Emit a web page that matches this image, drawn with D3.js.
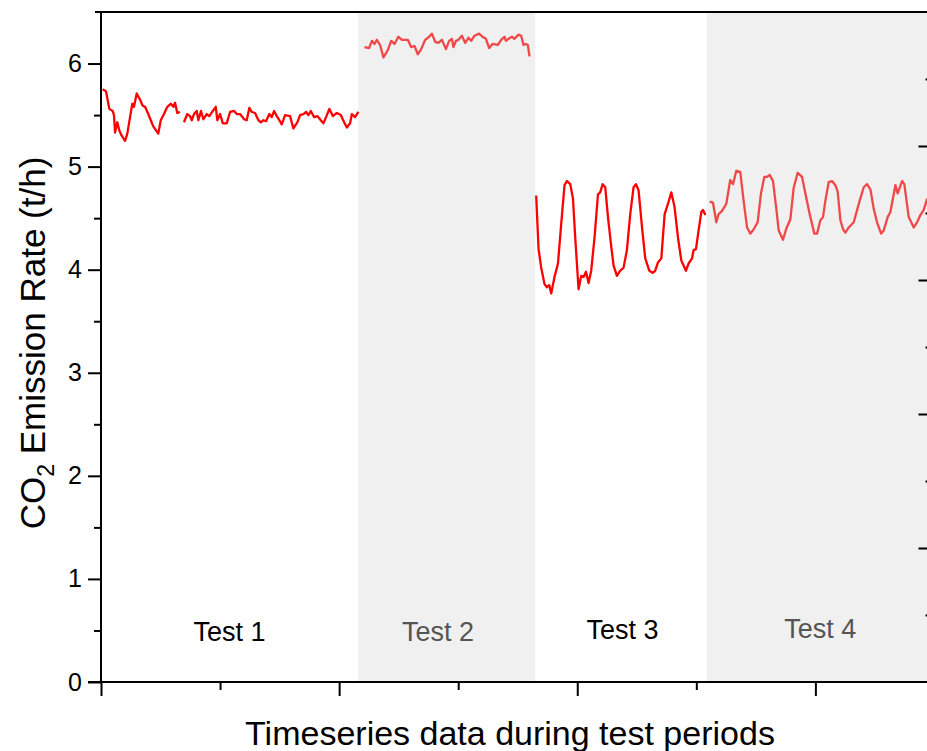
<!DOCTYPE html>
<html>
<head>
<meta charset="utf-8">
<script src="https://cdn.jsdelivr.net/npm/d3@7"></script>
<style>
  html, body { margin: 0; padding: 0; background: #fff; }
  svg { display: block; }
  text { font-family: "Liberation Sans", Arial, sans-serif; }
</style>
</head>
<body>
<svg id="chart" width="927" height="751"></svg>
<script>
// ---- data (time index, CO2 emission rate t/h) ----
const test1aX = [1.4,4.2,6.2,7.0,9.8,10.9,11.8,13.7,15.4,17.4,20.2,22.1,24.4,26.3,27.7,30.0,32.8,35.0,37.0,39.7,41.8,43.9,48.1,50.2,52.9,55.7,58.6,60.8,62.2,64.1,66.4];
const test1aY = [5.75,5.73,5.61,5.56,5.54,5.50,5.33,5.43,5.35,5.30,5.25,5.32,5.48,5.61,5.58,5.71,5.65,5.59,5.58,5.51,5.45,5.39,5.32,5.45,5.51,5.58,5.61,5.58,5.62,5.52,5.53];

const test1bX = [69.7,72.5,74.8,76.2,78.1,80.4,81.8,84.0,86.0,88.8,91.0,93.9,96.4,97.7,100.0,102.3,105.6,108.4,111.8,114.0,116.8,120.2,122.4,124.6,126.6,129.4,132.2,134.2,136.4,138.6,141.4,143.4,145.4,147.6,149.8,151.8,154.6,158.8,161.6,164.9,167.2,170.0,172.3,174.2,176.2,179.0,181.8,184.6,186.8,189.7,191.8,194.7,198.1,201.4,204.2,206.5,209.2,210.7,213.4,216.2];
const test1bY = [5.43,5.51,5.49,5.45,5.51,5.54,5.45,5.54,5.46,5.51,5.49,5.54,5.58,5.45,5.51,5.42,5.42,5.53,5.54,5.51,5.51,5.46,5.45,5.57,5.53,5.52,5.45,5.43,5.45,5.44,5.51,5.48,5.54,5.49,5.45,5.41,5.50,5.49,5.37,5.43,5.50,5.51,5.53,5.50,5.54,5.48,5.49,5.45,5.42,5.50,5.56,5.49,5.52,5.50,5.43,5.38,5.42,5.51,5.48,5.53];

const test2X = [221.3,225.2,227.5,229.7,231.7,234.4,237.2,240.9,243.7,246.5,249.8,252.7,257.7,260.5,263.3,266.1,268.9,272.3,275.6,277.9,280.7,283.4,286.3,289.7,292.4,294.7,296.0,298.1,300.2,303.1,305.9,308.6,310.9,313.7,317.6,320.4,323.3,326.0,328.8,333.3,336.1,338.9,340.1,342.3,345.1,347.3,350.7,352.9,354.9,356.9,358.5,359.9];
const test2Y = [6.16,6.15,6.22,6.19,6.23,6.18,6.06,6.13,6.22,6.19,6.26,6.23,6.23,6.16,6.17,6.09,6.14,6.23,6.26,6.29,6.21,6.20,6.23,6.14,6.22,6.24,6.16,6.22,6.23,6.27,6.20,6.25,6.22,6.27,6.29,6.26,6.24,6.15,6.19,6.18,6.23,6.26,6.22,6.24,6.26,6.24,6.28,6.27,6.18,6.19,6.18,6.07];

const test3X = [365.5,367.5,369.7,372.5,374.5,376.5,378.1,380.9,383.8,386.5,389.3,391.3,394.1,396.4,398.3,399.7,401.1,403.3,405.3,407.3,409.5,411.7,414.5,417.4,419.3,421.3,423.5,425.8,428.6,430.5,433.3,436.1,438.9,441.7,444.5,447.3,449.3,451.5,454.4,457.1,460.5,463.3,465.5,467.8,470.6,473.4,476.2,479.0,481.7,484.6,487.4,491.3,493.5,496.4,497.7,499.7,501.9,504.2,505.6,507.6];
const test3Y = [4.72,4.20,4.02,3.86,3.83,3.85,3.77,3.93,4.06,4.44,4.82,4.86,4.83,4.69,4.31,4.06,3.81,3.94,3.93,3.98,3.87,3.99,4.31,4.73,4.75,4.83,4.80,4.51,4.22,4.04,3.94,3.99,4.02,4.19,4.54,4.80,4.83,4.77,4.41,4.11,3.99,3.97,3.99,4.07,4.11,4.54,4.64,4.75,4.61,4.31,4.09,3.99,4.06,4.11,4.19,4.20,4.38,4.56,4.58,4.53];

const test4X = [511.2,514.0,516.8,518.7,521.6,525.2,528.5,530.8,533.6,536.9,539.7,542.6,545.4,548.1,551.5,554.3,557.1,559.4,561.6,564.4,567.2,569.2,572.8,575.6,579.0,581.7,585.1,588.8,591.6,595.2,599.1,601.4,604.2,606.4,608.4,611.2,614.0,616.8,618.7,621.0,623.3,625.2,628.0,632.2,637.2,640.6,643.4,646.2,649.0,651.8,655.2,657.4,660.7,663.0,667.2,669.1,672.8,674.7,678.4,682.6,685.4,688.2,691.0,693.9];
const test4Y = [4.66,4.65,4.46,4.54,4.57,4.64,4.87,4.83,4.96,4.95,4.67,4.41,4.35,4.39,4.46,4.74,4.90,4.90,4.92,4.86,4.59,4.38,4.29,4.40,4.49,4.79,4.94,4.90,4.74,4.54,4.35,4.35,4.48,4.51,4.67,4.85,4.86,4.82,4.76,4.48,4.39,4.36,4.41,4.46,4.67,4.80,4.83,4.78,4.59,4.46,4.35,4.38,4.51,4.56,4.82,4.74,4.86,4.83,4.51,4.41,4.46,4.53,4.58,4.69];

// shaded test periods [start, end] in time index
const bandStarts = [216, 509];
const bandEnds = [364.7, 700];

const testLabels = ["Test 1", "Test 2", "Test 3", "Test 4"];
const testLabelX = [108, 283, 438, 604];
const testLabelY = [0.40, 0.40, 0.42, 0.43];

const yTicks = [0, 1, 2, 3, 4, 5, 6];
const xTitle = "Timeseries data during test periods";

// ---- layout ----
const svg = d3.select("#chart");
const mLeft = 101, mRight = 928.5, mTop = 12, mBottom = 682;

const x = d3.scaleLinear().domain([0, 695]).range([mLeft, mRight]);
const y = d3.scaleLinear().domain([0, 6.5]).range([mBottom, mTop]);
const yR = d3.scaleLinear().domain([0, 5]).range([mBottom, mTop]);

const lineColor = "#ff0000";
const shadedLine = "#f04848";
const bandFill = "#f0f0f0";

// bands
svg.append("g").selectAll("rect").data(bandStarts).join("rect")
  .attr("x", (d) => x(d))
  .attr("y", mTop)
  .attr("width", (d, i) => x(bandEnds[i]) - x(d))
  .attr("height", mBottom - mTop)
  .attr("fill", bandFill);

// series
const line = d3.line().x(d => x(d[0])).y(d => y(d[1]));
const series = [
  {xs: test1aX, ys: test1aY, c: lineColor},
  {xs: test1bX, ys: test1bY, c: lineColor},
  {xs: test2X, ys: test2Y, c: shadedLine},
  {xs: test3X, ys: test3Y, c: lineColor},
  {xs: test4X, ys: test4Y, c: shadedLine}
];
svg.append("g").selectAll("path").data(series).join("path")
  .attr("d", s => line(s.xs.map((v, i) => [v, s.ys[i]])))
  .attr("fill", "none")
  .attr("stroke", s => s.c)
  .attr("stroke-width", 2.3)
  .attr("stroke-linejoin", "round");

// test labels
svg.append("g").selectAll("text").data(testLabels).join("text")
  .attr("x", (d, i) => x(testLabelX[i]))
  .attr("y", (d, i) => y(testLabelY[i]))
  .attr("text-anchor", "middle")
  .attr("font-size", 27)
  .attr("fill", (d, i) => i % 2 === 1 ? "#555555" : "#000000")
  .text(d => d);

// axes
function styleAxis(g) {
  g.select(".domain").remove();
  g.selectAll("line").attr("stroke", "#000").attr("stroke-width", 2);
}

// left axis major
const gL = svg.append("g").attr("transform", `translate(${mLeft},0)`)
  .call(d3.axisLeft(y).tickValues(yTicks).tickSize(13).tickPadding(6).tickFormat(d3.format("d")));
styleAxis(gL);
gL.selectAll("text").attr("font-size", 25).attr("fill", "#000")
  .attr("font-family", "'Liberation Sans', Arial, sans-serif");
// left minor
const gLm = svg.append("g").attr("transform", `translate(${mLeft},0)`)
  .call(d3.axisLeft(y).tickValues(d3.range(0.5, 6.5, 1)).tickSize(7).tickFormat(""));
styleAxis(gLm);

// bottom axis
const gB = svg.append("g").attr("transform", `translate(0,${mBottom})`)
  .call(d3.axisBottom(x).tickValues([0, 200, 400, 600]).tickSize(14).tickFormat(""));
styleAxis(gB);
const gBm = svg.append("g").attr("transform", `translate(0,${mBottom})`)
  .call(d3.axisBottom(x).tickValues([100, 300, 500]).tickSize(8).tickFormat(""));
styleAxis(gBm);

// right axis (ticks inward)
const gR = svg.append("g").attr("transform", `translate(${mRight},0)`)
  .call(d3.axisLeft(yR).tickValues([1, 2, 3, 4]).tickSize(10).tickFormat(""));
styleAxis(gR);
const gRm = svg.append("g").attr("transform", `translate(${mRight},0)`)
  .call(d3.axisLeft(yR).tickValues([0.5, 1.5, 2.5, 3.5, 4.5]).tickSize(3).tickFormat(""));
styleAxis(gRm);

// frame lines
svg.append("line").attr("x1", mLeft).attr("x2", mLeft).attr("y1", mTop - 1).attr("y2", mBottom + 1)
  .attr("stroke", "#000").attr("stroke-width", 2);
svg.append("line").attr("x1", 88).attr("x2", 930).attr("y1", mBottom).attr("y2", mBottom)
  .attr("stroke", "#000").attr("stroke-width", 2);
svg.append("line").attr("x1", 95).attr("x2", 930).attr("y1", mTop).attr("y2", mTop)
  .attr("stroke", "#000").attr("stroke-width", 2);

// axis titles
svg.append("text")
  .attr("x", 510).attr("y", 745)
  .attr("text-anchor", "middle")
  .attr("font-size", 34)
  .attr("fill", "#000")
  .text(xTitle);

const yt = svg.append("text")
  .attr("transform", "translate(45,343) rotate(-90)")
  .attr("text-anchor", "middle")
  .attr("font-size", 35)
  .attr("fill", "#000");
yt.append("tspan").text("CO");
yt.append("tspan").attr("font-size", 23).attr("dy", 9).text("2");
yt.append("tspan").attr("dy", -9).text(" Emission Rate (t/h)");
</script>
</body>
</html>
